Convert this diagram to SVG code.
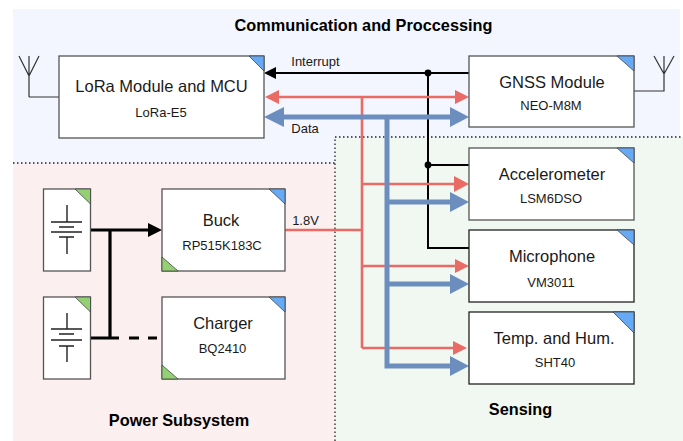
<svg xmlns="http://www.w3.org/2000/svg" width="683" height="441" viewBox="0 0 683 441">
<style>
text{font-family:"Liberation Sans",Arial,sans-serif;fill:#1a1a1a;text-anchor:middle}
.t{font-size:16.500px}.s{font-size:13px}.h{font-size:16.300px;font-weight:bold;fill:#000}.l{font-size:13px}
.box{fill:#fff;stroke:#555;stroke-width:1.3}
.dark{fill:#fff;stroke:#222;stroke-width:1.3}
.b{fill:#66aaf5;stroke:#444;stroke-width:.8}
.g{fill:#93cf73;stroke:#444;stroke-width:.8}
.dot{fill:none;stroke:#222;stroke-width:1.3;stroke-dasharray:1.5 2.5}
.red{fill:none;stroke:#ea6b66;stroke-width:2.6}
.blu{fill:none;stroke:#6c8ebf;stroke-width:5}
.blk{fill:none;stroke:#000;stroke-width:2}
.pw{fill:none;stroke:#000;stroke-width:3.2}
.thin{fill:none;stroke:#333;stroke-width:1.2}
.bat{fill:none;stroke:#222;stroke-width:1.4}
</style>
<rect x="13" y="9" width="667" height="154" fill="#f3f6fe"/>
<rect x="13" y="163" width="322" height="278" fill="#fbefef"/>
<rect x="335" y="137" width="348" height="304" fill="#f1f7f1"/>
<path class="dot" d="M13 163H335M335 441V137H683"/>
<text class="h" x="363.500" y="31">Communication and Proccessing</text>
<text class="h" x="179" y="426">Power Subsystem</text>
<text class="h" x="520.500" y="415">Sensing</text>
<g id="connectors">
<path class="thin" d="M59 97H29M29 97V76M29 76L19 56M29 76L39 56M29 56V76"/>
<path class="thin" d="M634 91H664V74M664 74L654 56M664 74L674 56M664 56V74"/>
<path class="blk" d="M469 73H273"/>
<polygon points="264,73 276,67 276,79" fill="#000"/>
<path class="blk" d="M428 73V248H469M428 165H469"/>
<circle cx="428" cy="73" r="3.400" fill="#000"/><circle cx="428" cy="165" r="3.400" fill="#000"/>
<path class="red" d="M276 97H457"/>
<polygon points="265,97 279,90 279,104" fill="#ea6b66"/>
<polygon points="469,97 455,90 455,104" fill="#ea6b66"/>
<path class="red" d="M362 97V348M285 230H362M362 184H457M362 266H457M362 348H455"/>
<polygon points="469,184 454,176 454,192" fill="#ea6b66"/>
<polygon points="469,266 455,259 455,273" fill="#ea6b66"/>
<polygon points="467,348 453,341 453,355" fill="#ea6b66"/>
<path class="blu" d="M280 117H452"/>
<polygon points="264,117 284,107 284,127" fill="#6c8ebf"/>
<polygon points="469,117 450,107 450,127" fill="#6c8ebf"/>
<path class="blu" d="M387 117V366.500M387 202H452M387 284H452M384.500 366H452"/>
<polygon points="469,202 450,192 450,212" fill="#6c8ebf"/>
<polygon points="469,284 450,274 450,294" fill="#6c8ebf"/>
<polygon points="469,366 450,356 450,376" fill="#6c8ebf"/>
<path class="pw" d="M90 230H150M110 230V338M90 338H119"/>
<polygon points="162,230 148,223 148,237" fill="#000"/>
<path class="pw" d="M129 338H139M148 338H157"/>
</g>
<text class="l" x="315.500" y="66">Interrupt</text>
<text class="l" x="305" y="133">Data</text>
<text class="l" x="305.500" y="225">1.8V</text>
<g id="lora"><rect class="box" x="59" y="56" width="205" height="82"/><polygon class="b" points="249,56 264,56 264,71"/><text class="t" x="161.500" y="92">LoRa Module and MCU</text><text class="s" x="161" y="117">LoRa-E5</text></g>
<g id="gnss"><rect class="box" x="469" y="56" width="165" height="71"/><polygon class="b" points="617,56 634,56 634,71"/><text class="t" x="552" y="88">GNSS Module</text><text class="s" x="551" y="110">NEO-M8M</text></g>
<g id="accel"><rect class="box" x="469" y="148" width="165" height="72"/><polygon class="b" points="617,148 634,148 634,163"/><text class="t" x="552" y="180">Accelerometer</text><text class="s" x="551" y="203">LSM6DSO</text></g>
<g id="mic"><rect class="dark" x="469" y="230" width="165" height="72"/><polygon class="b" points="617,230 634,230 634,245"/><text class="t" x="552" y="262">Microphone</text><text class="s" x="551" y="287">VM3011</text></g>
<g id="temp"><rect class="dark" x="469" y="312" width="165" height="72"/><polygon class="b" points="613,312 634,312 634,333"/><text class="t" x="554" y="344">Temp. and Hum.</text><text class="s" x="555" y="367">SHT40</text></g>
<g id="buck"><rect class="box" x="162" y="189" width="123" height="82"/><polygon class="b" points="269,189 285,189 285,204"/><polygon class="g" points="162,257 162,271 178,271"/><text class="t" x="221" y="226">Buck</text><text class="s" x="222" y="250">RP515K183C</text></g>
<g id="charger"><rect class="box" x="162" y="297" width="123" height="82"/><polygon class="b" points="269,297 285,297 285,312"/><polygon class="g" points="162,365 162,379 178,379"/><text class="t" x="223" y="329">Charger</text><text class="s" x="222.500" y="353">BQ2410</text></g>
<g id="bat1"><rect class="box" x="43.500" y="189" width="47" height="82"/><polygon class="g" points="75,189 90.500,189 90.500,204"/><path class="bat" d="M67 205V222M51 222H82M59 227H74M51 232H82M59 237H74M67 237V254"/></g>
<g id="bat2"><rect class="box" x="43.500" y="297" width="47" height="82"/><polygon class="g" points="75,297 90.500,297 90.500,312"/><path class="bat" d="M67 313V329M51 329H82M59 334H74M51 340H82M59 346H74M67 346V362"/></g>
</svg>
